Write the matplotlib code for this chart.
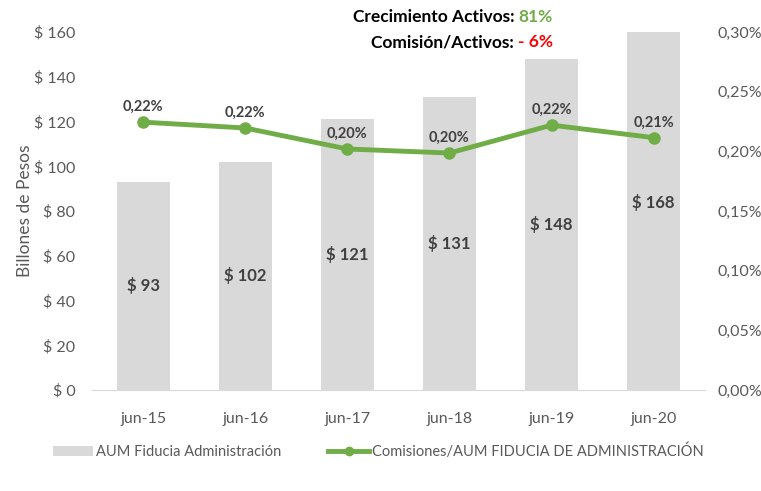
import matplotlib
matplotlib.use("Agg")
import matplotlib.pyplot as plt
from matplotlib.ticker import FuncFormatter
from matplotlib.lines import Line2D
from matplotlib.patches import Patch

categories = ["jun-15", "jun-16", "jun-17", "jun-18", "jun-19", "jun-20"]
aum = [93, 102, 121, 131, 148, 168]
aum_labels = ["$ 93", "$ 102", "$ 121", "$ 131", "$ 148", "$ 168"]
ratio = [0.2245, 0.2196, 0.2020, 0.1986, 0.2220, 0.2115]
ratio_labels = ["0,22%", "0,22%", "0,20%", "0,20%", "0,22%", "0,21%"]
left_ticks = [0, 20, 40, 60, 80, 100, 120, 140, 160]
right_ticks = [0, 0.05, 0.10, 0.15, 0.20, 0.25, 0.30]

plt.rcParams['font.family'] = ['Lato', 'DejaVu Sans']
grey = "#595959"
dark = "#404040"
bar_c = "#d9d9d9"
green = "#70ad47"

fig = plt.figure(figsize=(7.61, 4.91), dpi=100)
ax = fig.add_axes([0.121, 0.2057, 0.805, 0.729])
x = list(range(len(categories)))
ax.bar(x, aum, width=0.52, color=bar_c, zorder=1)
ax.set_ylim(0, 160)
ax.set_xlim(-0.5, len(categories) - 0.5)
ax.set_yticks(left_ticks)
ax.yaxis.set_major_formatter(FuncFormatter(lambda v, p: f"$ {int(v)}"))
ax.set_xticks(x)
ax.set_xticklabels(categories)
for s in ["top", "right", "left"]:
    ax.spines[s].set_visible(False)
ax.spines["bottom"].set_color(bar_c)
ax.tick_params(axis="both", length=0, colors=grey, labelsize=11.5)
ax.tick_params(axis="x", pad=16)
ax.tick_params(axis="y", pad=12)
ax.set_ylabel("Billones de Pesos", color=grey, fontsize=12.5)
ax.yaxis.set_label_coords(-0.097, 0.5)
for xi, v, lab in zip(x, aum, aum_labels):
    ax.text(xi, v / 2, lab, ha="center", va="center",
            fontsize=12, fontweight="bold", color=dark, zorder=3)

ax2 = ax.twinx()
ax2.set_position(ax.get_position())
ax2.plot(x, ratio, color=green, linewidth=3.5, marker="o", markersize=8, zorder=4)
ax2.set_ylim(0, 0.30)
ax2.set_yticks(right_ticks)
ax2.yaxis.set_major_formatter(FuncFormatter(lambda v, p: f"{v:.2f}%".replace(".", ",")))
for s in ["top", "right", "left", "bottom"]:
    ax2.spines[s].set_visible(False)
ax2.tick_params(axis="y", length=0, colors=grey, labelsize=11.5, pad=9)
for xi, v, lab in zip(x, ratio, ratio_labels):
    ax2.annotate(lab, (xi, v), xytext=(0, 6), textcoords="offset points", ha="center",
                 va="bottom", fontsize=10.5, fontweight="bold", color=dark)

# Title lines (right edge of numbers at ~553 px)
fig.canvas.draw()
r = fig.canvas.get_renderer()
right_x = 553 / 761
for ypos, prefix, num, col in [(0.965, "Crecimiento Activos: ", "81%", green),
                               (0.914, "Comisión/Activos: ", "- 6%", "#ff0000")]:
    tn = fig.text(right_x, ypos, num, ha="right", va="center", fontsize=12.5,
                  fontweight="bold", color=col)
    bb = tn.get_window_extent(renderer=r)
    fig.text(bb.x0 / fig.bbox.width, ypos, prefix, ha="right", va="center", fontsize=12.5,
             fontweight="bold", color="black")

handles = [Patch(facecolor=bar_c, edgecolor="none"),
           Line2D([0], [0], color=green, linewidth=3.5, marker="o", markersize=6)]
leg = fig.legend(handles, ["AUM Fiducia Administración", "Comisiones/AUM FIDUCIA DE ADMINISTRACIÓN"],
                 loc="center", bbox_to_anchor=(0.497, 0.081), ncol=2, frameon=False,
                 fontsize=10.5, handlelength=2.8, handletextpad=0.2, columnspacing=3.2)
for t in leg.get_texts():
    t.set_color(grey)

fig.savefig("out.png", dpi=100)
